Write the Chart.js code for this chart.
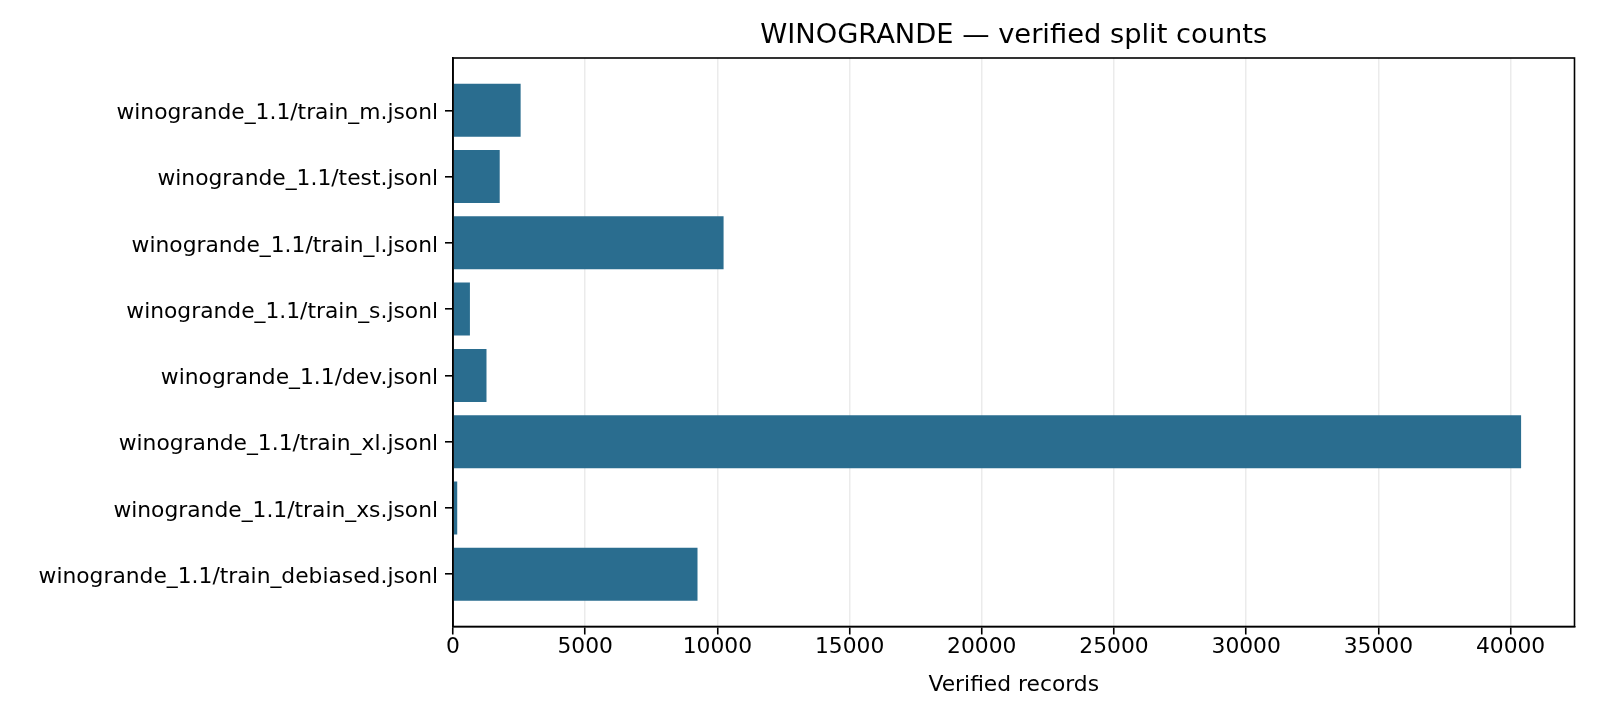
<!DOCTYPE html>
<html>
<head>
<meta charset="utf-8">
<script src="https://cdn.jsdelivr.net/npm/chart.js@4.4.1/dist/chart.umd.min.js"></script>
<style>
  html, body { margin: 0; padding: 0; background: #fff; overflow: hidden; }
  #wrap { width: 1600px; height: 720px; position: relative; }
</style>
</head>
<body>
<div id="wrap"><canvas id="splitChart"></canvas></div>
<script>
// --- data ---
const splitNames = [
  'winogrande_1.1/train_m.jsonl',
  'winogrande_1.1/test.jsonl',
  'winogrande_1.1/train_l.jsonl',
  'winogrande_1.1/train_s.jsonl',
  'winogrande_1.1/dev.jsonl',
  'winogrande_1.1/train_xl.jsonl',
  'winogrande_1.1/train_xs.jsonl',
  'winogrande_1.1/train_debiased.jsonl'
];
const verifiedCounts = [2558, 1767, 10234, 640, 1267, 40398, 160, 9248];
const xTicks = [0, 5000, 10000, 15000, 20000, 25000, 30000, 35000, 40000];

const chartTitle = 'WINOGRANDE — verified split counts';
const xTitle = 'Verified records';

const FONT = 'DejaVu Sans';
const BAR = '#2a6d8f';
const TICK_SIZE = 21.8;

// --- box around the plot area + title over the plot centre ---
const framePlugin = {
  id: 'frame',
  afterDraw(chart) {
    const { ctx, chartArea: a } = chart;
    ctx.save();
    ctx.strokeStyle = '#000';
    ctx.lineWidth = 1.6;
    ctx.strokeRect(a.left, a.top, a.right - a.left, a.bottom - a.top);
    ctx.fillStyle = '#000';
    ctx.font = `27.3px "${FONT}"`;
    ctx.textAlign = 'center';
    ctx.textBaseline = 'alphabetic';
    ctx.fillText(chartTitle, (a.left + a.right) / 2, 43);
    ctx.restore();
  }
};

// matplotlib style range: bars span ±0.4 around index, 5% margin
const yPad = 0.39;
const xMax = Math.max(...verifiedCounts) * 1.05;

new Chart(document.getElementById('splitChart'), {
  type: 'bar',
  data: {
    datasets: [{
      data: verifiedCounts.map((v, i) => ({ x: v, y: i })),
      backgroundColor: BAR,
      borderWidth: 0,
      barPercentage: 0.8,
      categoryPercentage: 1
    }]
  },
  options: {
    indexAxis: 'y',
    responsive: true,
    maintainAspectRatio: false,
    animation: false,
    layout: { padding: { top: 58, right: 25.5, left: 0, bottom: 0 } },
    plugins: {
      legend: { display: false },
      tooltip: { enabled: false }
    },
    scales: {
      x: {
        type: 'linear',
        min: 0,
        max: xMax,
        z: 1,
        afterBuildTicks: (scale) => { scale.ticks = xTicks.map(v => ({ value: v })); },
        afterFit: (scale) => { scale.height = 93.5; },
        grid: { color: 'rgba(176,176,176,0.25)', lineWidth: 1.5, tickLength: 8, tickColor: '#000', tickWidth: 1.6 },
        border: { color: '#000', width: 1.6 },
        ticks: {
          color: '#000',
          padding: 0,
          maxRotation: 0,
          font: { family: FONT, size: TICK_SIZE },
          callback: (v) => String(v)
        },
        title: {
          display: true,
          text: xTitle,
          color: '#000',
          padding: { top: 2, bottom: 22 },
          font: { family: FONT, size: TICK_SIZE }
        }
      },
      y: {
        type: 'linear',
        reverse: true,
        offset: false,
        min: -yPad - 0.4,
        max: splitNames.length - 1 + 0.4 + yPad,
        afterBuildTicks: (scale) => { scale.ticks = splitNames.map((_, i) => ({ value: i })); },
        afterFit: (scale) => { scale.width = 453; },
        grid: { offset: false, drawOnChartArea: false, tickLength: 8, color: '#000', lineWidth: 1.6 },
        border: { color: '#000', width: 1.6 },
        ticks: {
          color: '#000',
          padding: 7,
          labelOffset: 3,
          font: { family: FONT, size: TICK_SIZE },
          callback: (v) => splitNames[v] ?? ''
        }
      }
    }
  },
  plugins: [framePlugin]
});
</script>
</body>
</html>
